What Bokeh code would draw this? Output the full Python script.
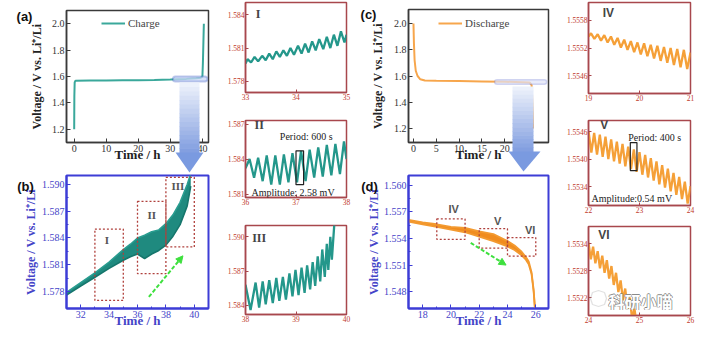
import numpy as np
from bokeh.plotting import figure
from bokeh.layouts import row, column
from bokeh.models import (Range1d, Label, PolyAnnotation, BoxAnnotation, Arrow, NormalHead,
                          FixedTicker, PrintfTickFormatter, GridBox)
from bokeh.embed import file_html
from bokeh.resources import INLINE

# ---------------- data ----------------
charge_t = [0.0, 0.05, 0.15, 0.4, 5, 10, 15, 20, 25, 30, 35, 38, 39.5, 40.0, 40.15, 40.3, 40.45]
charge_v = [1.20, 1.45, 1.555, 1.568, 1.569, 1.570, 1.571, 1.572, 1.574, 1.577, 1.582, 1.586, 1.590, 1.600, 1.70, 1.85, 2.00]

discharge_t = [0.0, 0.1, 0.25, 0.5, 0.9, 1.5, 2.5, 5, 10, 15, 20, 24, 25.5, 25.9, 26.0, 26.1, 26.2]
discharge_v = [2.00, 1.85, 1.72, 1.64, 1.60, 1.575, 1.566, 1.563, 1.561, 1.559, 1.556, 1.553, 1.550, 1.530, 1.45, 1.33, 1.20]

# (b) zoom of charge plateau: oscillation envelope
b_t = [31.0, 32.0, 33.0, 34.0, 35.0, 35.5, 36.0, 36.5, 37.0, 37.5, 38.0, 38.5, 39.0, 39.5, 39.75]
b_lo = [1.5776, 1.5786, 1.5796, 1.5806, 1.5815, 1.5819, 1.5822, 1.5817, 1.5822, 1.5826, 1.5832, 1.5842, 1.5855, 1.5876, 1.5898]
b_hi = [1.5779, 1.5790, 1.5801, 1.5813, 1.5827, 1.5833, 1.5840, 1.5843, 1.5847, 1.5849, 1.5856, 1.5866, 1.5880, 1.5900, 1.5912]
b_box_x0 = [33, 36, 38]
b_box_x1 = [35, 38, 40]
b_box_y0 = [1.5770, 1.5800, 1.5830]
b_box_y1 = [1.5850, 1.5881, 1.5908]
b_box_names = ["I", "II", "III"]

# (d) zoom of discharge plateau: oscillation envelope
d_t = [17.0, 18.0, 19.0, 20.0, 21.0, 22.0, 23.0, 24.0, 24.5, 25.0, 25.3, 25.5, 25.7, 25.85, 25.95]
d_lo = [1.5559, 1.5556, 1.5553, 1.5550, 1.5547, 1.5542, 1.5537, 1.5531, 1.5527, 1.5521, 1.5516, 1.5511, 1.5500, 1.5480, 1.5458]
d_hi = [1.5561, 1.5558, 1.5556, 1.5553, 1.5552, 1.5548, 1.5545, 1.5537, 1.5532, 1.5525, 1.5519, 1.5514, 1.5502, 1.5482, 1.5460]
d_box_x0 = [19, 22, 24]
d_box_x1 = [21, 24, 26]
d_box_y0 = [1.5539, 1.5529, 1.5520]
d_box_y1 = [1.5562, 1.5551, 1.5541]
d_box_names = ["IV", "V", "VI"]

# small panels: peak / trough vertices
I_t = [33.00, 33.04, 33.11, 33.18, 33.25, 33.33, 33.40, 33.47, 33.54, 33.61, 33.68, 33.75, 33.82, 33.89, 33.96,
       34.04, 34.11, 34.18, 34.25, 34.32, 34.39, 34.46, 34.54, 34.61, 34.68, 34.75, 34.82, 34.89, 34.96, 35.00]
I_v = [1.5796, 1.5800, 1.5797, 1.5802, 1.5798, 1.5803, 1.5799, 1.5805, 1.5800, 1.5807, 1.5802, 1.5808, 1.5803, 1.5810, 1.5804,
       1.5812, 1.5805, 1.5814, 1.5806, 1.5816, 1.5808, 1.5818, 1.5809, 1.5820, 1.5810, 1.5822, 1.5812, 1.5825, 1.5815, 1.5822]

II_t = [36.00, 36.08, 36.17, 36.25, 36.34, 36.42, 36.51, 36.59, 36.68, 36.76, 36.85, 36.93, 37.02, 37.10, 37.19,
        37.27, 37.36, 37.44, 37.53, 37.61, 37.70, 37.78, 37.87, 37.95, 38.00]
II_v = [1.5832, 1.5840, 1.5824, 1.5841, 1.5821, 1.5843, 1.5818, 1.5843, 1.5818, 1.5844, 1.5820, 1.5845, 1.5820, 1.5847, 1.5821,
        1.5848, 1.5824, 1.5850, 1.5825, 1.5852, 1.5826, 1.5853, 1.5827, 1.5855, 1.5840]

III_t = [38.00, 38.10, 38.20, 38.27, 38.34, 38.40, 38.47, 38.54, 38.61, 38.67, 38.74, 38.80, 38.87, 38.93, 38.99, 39.05,
         39.11, 39.17, 39.22, 39.28, 39.33, 39.38, 39.43, 39.48, 39.52, 39.57, 39.61, 39.64, 39.68, 39.71, 39.76]
III_v = [1.5858, 1.5836, 1.5860, 1.5838, 1.5861, 1.5841, 1.5862, 1.5842, 1.5864, 1.5844, 1.5865, 1.5845, 1.5868, 1.5848, 1.5871, 1.5849,
         1.5873, 1.5851, 1.5875, 1.5854, 1.5878, 1.5857, 1.5883, 1.5861, 1.5889, 1.5865, 1.5894, 1.5871, 1.5900, 1.5880, 1.5912]

IV_t = [19.00, 19.05, 19.115, 19.18, 19.245, 19.31, 19.375, 19.44, 19.505, 19.57, 19.635, 19.70, 19.765, 19.83, 19.895, 19.96,
        20.025, 20.09, 20.155, 20.22, 20.285, 20.35, 20.415, 20.48, 20.545, 20.61, 20.675, 20.74, 20.805, 20.87, 20.935, 21.00]
IV_v = [1.55545, 1.55552, 1.55540, 1.55550, 1.55536, 1.55548, 1.55532, 1.55545, 1.55527, 1.55542, 1.55521, 1.55538, 1.55516, 1.55535, 1.55511, 1.55532,
        1.55506, 1.55530, 1.55502, 1.55527, 1.55497, 1.55525, 1.55492, 1.55522, 1.55488, 1.55520, 1.55483, 1.55518, 1.55478, 1.55516, 1.55474, 1.55510]

V_t = [22.000, 22.056, 22.111, 22.167, 22.222, 22.278, 22.333, 22.389, 22.444, 22.500, 22.556, 22.611, 22.667, 22.722, 22.778, 22.833,
       22.889, 22.944, 23.000, 23.056, 23.111, 23.167, 23.222, 23.278, 23.333, 23.389, 23.444, 23.500, 23.556, 23.611, 23.667, 23.722,
       23.778, 23.833, 23.889, 23.944, 24.000]
V_v = [1.55461, 1.55414, 1.55457, 1.55410, 1.55453, 1.55405, 1.55449, 1.55400, 1.55443, 1.55395, 1.55438, 1.55390, 1.55433, 1.55384, 1.55427, 1.55378,
       1.55421, 1.55372, 1.55415, 1.55366, 1.55409, 1.55360, 1.55402, 1.55353, 1.55395, 1.55345, 1.55387, 1.55338, 1.55379, 1.55330, 1.55370, 1.55322,
       1.55361, 1.55313, 1.55351, 1.55303, 1.55341]

VI_t = [24.000, 24.045, 24.090, 24.135, 24.180, 24.225, 24.270, 24.315, 24.360, 24.405, 24.450, 24.495, 24.540, 24.585, 24.630, 24.675,
        24.720, 24.765, 24.810, 24.855, 24.900, 24.960]
VI_v = [1.55342, 1.55305, 1.55333, 1.55296, 1.55323, 1.55285, 1.55313, 1.55275, 1.55303, 1.55262, 1.55290, 1.55248, 1.55275, 1.55232, 1.55258, 1.55214,
        1.55240, 1.55195, 1.55220, 1.55172, 1.55195, 1.55150]

panel_letters = ["(a)", "(b)", "(c)", "(d)"]

# ---------------- styling ----------------
SERIF = "Liberation Serif"
SANS = "Liberation Sans"
TEAL = "#24978b"
ORANGE = "#f5a038"
BLUE = "#3d3dd6"
RED_FRAME = "#a8474d"
RED_TXT = "#c0392b"
YLABEL = "Voltage / V vs. Li\u207a/Li"


def make(w, h, xr, yr, bl, br, bt, bb):
    p = figure(width=w, height=h, x_range=Range1d(*xr), y_range=Range1d(*yr),
               output_backend="svg", toolbar_location=None,
               min_border_left=bl, min_border_right=br, min_border_top=bt, min_border_bottom=bb)
    p.xgrid.visible = False
    p.ygrid.visible = False
    p.background_fill_color = "white"
    p.border_fill_color = "white"
    return p


def style(p, frame_col, frame_w, txt_col, tick_size, xticks, yticks, yfmt, xfmt="%d",
          xminor=None, yminor=None, xlabel=None, ylabel=None, lab_col=None, ylab_standoff=4, xlab_standoff=-8):
    p.outline_line_color = frame_col
    p.outline_line_width = frame_w
    p.outline_line_alpha = 1
    p.xaxis.ticker = FixedTicker(ticks=xticks, minor_ticks=xminor or [])
    p.yaxis.ticker = FixedTicker(ticks=yticks, minor_ticks=yminor or [])
    p.xaxis.formatter = PrintfTickFormatter(format=xfmt)
    p.yaxis.formatter = PrintfTickFormatter(format=yfmt)
    for ax in (p.xaxis, p.yaxis):
        ax.axis_line_color = frame_col
        ax.axis_line_width = frame_w
        ax.major_tick_line_color = frame_col
        ax.minor_tick_line_color = frame_col
        ax.major_tick_in = 4
        ax.major_tick_out = 0
        ax.minor_tick_in = 2
        ax.minor_tick_out = 0
        ax.major_label_text_font = SERIF
        ax.major_label_text_font_size = tick_size
        ax.major_label_text_color = txt_col
        ax.major_label_standoff = 2
        ax.axis_label_text_font = SERIF
        ax.axis_label_text_font_style = "bold"
        ax.axis_label_text_color = lab_col or txt_col
    if xlabel:
        p.xaxis.axis_label = xlabel
        p.xaxis.axis_label_text_font_size = "13px"
        p.xaxis.axis_label_standoff = xlab_standoff
    if ylabel:
        p.yaxis.axis_label = ylabel
        p.yaxis.axis_label_text_font_size = "12px"
        p.yaxis.axis_label_standoff = ylab_standoff


def txt(p, x, y, s, size="11px", font=SERIF, bold=False, color="#222", align="center", base="middle"):
    p.add_layout(Label(x=x, y=y, text=s, text_font=font, text_font_size=size,
                       text_font_style="bold" if bold else "normal", text_color=color,
                       text_align=align, text_baseline=base))


def style_legend(p, loc):
    p.legend.location = loc
    p.legend.border_line_alpha = 0
    p.legend.background_fill_alpha = 0
    p.legend.label_text_font = SERIF
    p.legend.label_text_font_size = "11px"
    p.legend.glyph_width = 24
    p.legend.glyph_height = 12
    p.legend.padding = 2
    p.legend.margin = 0
    p.legend.label_standoff = 3


def dashed_boxes(p, x0, x1, y0, y1):
    p.quad(left=x0, right=x1, bottom=y0, top=y1, fill_alpha=0, line_color="#b0403c",
           line_dash="2 2", line_width=1.3)


# ---------------- (a) ----------------
pa = make(218, 172, (-2.4, 41.9), (1.10, 2.10), 65, 10, 10, 30)
style(pa, "#3a3a3a", 1.5, "#333", "10px", [0, 10, 20, 30, 40], [1.2, 1.4, 1.6, 1.8, 2.0], "%.1f",
      xlabel="Time / h", ylabel=YLABEL, lab_col="#222", ylab_standoff=5)
pa.line(charge_t, charge_v, color="#3aa89b", line_width=2, legend_label="Charge")
style_legend(pa, (33, 111))
pa.add_layout(BoxAnnotation(left=30.8, right=41.6, bottom=1.562, top=1.600, fill_color="#c9d7f5",
                            fill_alpha=0.75, line_color="#2f4fc0", line_width=2, border_radius=3))

# ---------------- (b) ----------------
pb = make(218, 165, (31.0, 41.0), (1.5761, 1.5910), 66, 10, 3, 29)
style(pb, BLUE, 2, "#4444c8", "10px", [32, 34, 36, 38, 40], [1.578, 1.581, 1.584, 1.587, 1.590], "%.3f",
      xminor=[31, 33, 35, 37, 39, 41], yminor=[1.5795, 1.5825, 1.5855, 1.5885],
      xlabel="Time / h", ylabel=YLABEL, lab_col="#4444c8", ylab_standoff=1)
pb.varea(x=b_t, y1=b_lo, y2=b_hi, fill_color="#1f8a7f")
pb.line(b_t, b_lo, color="#16766c", line_width=1.6)
pb.line(b_t, b_hi, color="#2a9d90", line_width=1.6)
dashed_boxes(pb, b_box_x0, b_box_x1, b_box_y0, b_box_y1)
for xx, yy, nm in zip([33.85, 37.0, 38.85], [1.5838, 1.5866, 1.5898], b_box_names):
    txt(pb, xx, yy, nm, size="11px", font=SERIF, bold=True, color="#555")
pb.add_layout(Arrow(end=NormalHead(size=7, fill_color="#3ee03e", line_color="#3ee03e"),
                    x_start=36.8, y_start=1.5774, x_end=39.2, y_end=1.5820,
                    line_color="#3ee03e", line_width=2, line_dash="4 2"))

# ---------------- (c) ----------------
pc = make(197, 172, (-1.09, 29.6), (1.093, 2.107), 53, 4, 9, 30)
style(pc, "#3a3a3a", 1.5, "#333", "10px", [0, 5, 10, 15, 20, 25], [1.2, 1.4, 1.6, 1.8, 2.0], "%.1f",
      xlabel="Time / h", ylabel=YLABEL, lab_col="#222", ylab_standoff=6)
pc.line(discharge_t, discharge_v, color="#f7a64c", line_width=2, legend_label="Discharge")
style_legend(pc, (28, 111))
pc.add_layout(BoxAnnotation(left=17.8, right=29.2, bottom=1.537, top=1.571, fill_color="#dfe3f6",
                            fill_alpha=0.7, line_color="#6f7fd6", line_width=1.5, border_radius=3))

# ---------------- (d) ----------------
pd = make(197, 165, (17.0, 26.9), (1.5461, 1.5611), 53, 3, 3, 29)
style(pd, BLUE, 2, "#4444c8", "10px", [18, 20, 22, 24, 26], [1.548, 1.551, 1.554, 1.557, 1.560], "%.3f",
      xminor=[17, 19, 21, 23, 25], yminor=[1.5495, 1.5525, 1.5555, 1.5585],
      xlabel="Time / h", ylabel=YLABEL, lab_col="#4444c8", ylab_standoff=0)
pd.varea(x=d_t, y1=d_lo, y2=d_hi, fill_color="#f08c1e")
pd.line(d_t, d_lo, color="#f39a30", line_width=1.8)
pd.line(d_t, d_hi, color="#f39a30", line_width=1.8)
dashed_boxes(pd, d_box_x0, d_box_x1, d_box_y0, d_box_y1)
for xx, yy, nm in zip([20.2, 23.3, 25.6], [1.5573, 1.5560, 1.5549], d_box_names):
    txt(pd, xx, yy, nm, size="11px", font=SANS, bold=True, color="#555")
pd.add_layout(Arrow(end=NormalHead(size=7, fill_color="#3ee03e", line_color="#3ee03e"),
                    x_start=21.4, y_start=1.5535, x_end=23.9, y_end=1.5510,
                    line_color="#3ee03e", line_width=2, line_dash="4 2"))

# ---------------- small panels ----------------
def small(w, h, xr, yr, bl, br, bt, bb, xticks, yticks, yfmt):
    p = make(w, h, xr, yr, bl, br, bt, bb)
    style(p, RED_FRAME, 1.5, RED_TXT, "7.5px", xticks, yticks, yfmt)
    for ax in (p.xaxis, p.yaxis):
        ax.major_tick_in = 3
        ax.major_label_standoff = 1
    return p

p1 = small(137, 105, (33, 35), (1.5770, 1.5851), 27, 8, 2, 13, [33, 34, 35], [1.578, 1.581, 1.584], "%.3f")
p1.line(I_t, I_v, color=TEAL, line_width=2.3)
txt(p1, 33.25, 1.5841, "I", size="12px", bold=True, color="#444")

p2 = small(137, 105, (36, 38), (1.5807, 1.5873), 26, 9, 15, 13, [36, 37, 38], [1.581, 1.584, 1.587], "%.3f")
p2.line(II_t, II_v, color=TEAL, line_width=2.3)
p2.quad(left=[37.00], right=[37.15], bottom=[1.5818], top=[1.5847], fill_alpha=0, line_color="#222", line_width=1.2)
txt(p2, 36.27, 1.5869, "II", size="12px", bold=True, color="#444")
txt(p2, 36.68, 1.5859, "Period: 600 s", size="10px", color="#222", align="left")
txt(p2, 36.12, 1.5811, "Amplitude: 2.58 mV", size="10px", color="#222", align="left")

p3 = small(137, 127, (38, 40), (1.5832, 1.5910), 26, 9, 15, 23, [38, 39, 40], [1.584, 1.587, 1.590], "%.3f")
p3.line(III_t, III_v, color=TEAL, line_width=2.3)
txt(p3, 38.27, 1.5899, "III", size="12px", bold=True, color="#444")

p4 = small(150, 105, (19, 21), (1.55421, 1.55619), 35, 12, 2, 12, [19, 20, 21], [1.5546, 1.5552, 1.5558], "%.4f")
p4.line(IV_t, IV_v, color=ORANGE, line_width=2.3)
txt(p4, 19.39, 1.55596, "IV", size="12px", font=SANS, bold=True, color="#444")

p5 = small(150, 113, (22, 24), (1.55299, 1.55484), 35, 12, 15, 13, [22, 23, 24], [1.5534, 1.5540, 1.5546], "%.4f")
p5.line(V_t, V_v, color=ORANGE, line_width=2.3)
p5.quad(left=[22.82], right=[22.95], bottom=[1.55375], top=[1.55436], fill_alpha=0, line_color="#222", line_width=1.2)
txt(p5, 22.31, 1.55474, "V", size="12px", font=SANS, bold=True, color="#444")
txt(p5, 22.78, 1.55446, "Period: 400 s", size="10px", color="#222", align="left")
txt(p5, 22.06, 1.55315, "Amplitude:0.54 mV", size="10px", color="#222", align="left")

p6 = small(150, 119, (24, 26), (1.5518, 1.55378), 36, 12, 8, 22, [24, 25, 26], [1.5522, 1.5528, 1.5534], "%.4f")
p6.line(VI_t, VI_v, color=ORANGE, line_width=2.3)
txt(p6, 24.3, 1.5536, "VI", size="12px", font=SANS, bold=True, color="#444")

main = row(column(pa, pb), column(p1, p2, p3), column(pc, pd), column(p4, p5, p6))

# ---------------- transparent overlay (pixel coordinates) for decorations ----------------
ov = figure(width=702, height=337, x_range=Range1d(0, 702), y_range=Range1d(337, 0),
            output_backend="svg", toolbar_location=None, x_axis_type=None, y_axis_type=None,
            min_border_left=0, min_border_right=0, min_border_top=0, min_border_bottom=0)
ov.xgrid.visible = False
ov.ygrid.visible = False
ov.background_fill_alpha = 0
ov.border_fill_alpha = 0
ov.outline_line_alpha = 0


def blue_arrow(p, xl, xr, hl, hr, xtip, ytop, ybase, ytip):
    n = 16
    c0 = np.array([240, 244, 252])
    c1 = np.array([128, 157, 224])
    step = (ybase - ytop) / n
    for i in range(n):
        y0 = ytop + step * i
        y1 = ytop + step * (i + 1) + 0.6
        c = c0 + (c1 - c0) * (i + 0.5) / n
        col = "#%02x%02x%02x" % tuple(int(v) for v in c)
        p.add_layout(PolyAnnotation(xs=[xl, xr, xr, xl], ys=[y0, y0, y1, y1], fill_color=col,
                                    fill_alpha=1, line_alpha=0, level="overlay"))
    p.add_layout(PolyAnnotation(xs=[hl, hr, xtip], ys=[ybase, ybase, ytip], fill_color="#7a9ae0",
                                fill_alpha=1, line_alpha=0, level="overlay"))


blue_arrow(ov, 179, 199, 175, 203, 189, 82, 152, 172)
blue_arrow(ov, 512, 533, 508, 540, 523, 86, 151, 171)
for (lx, ly), lt in zip([(24, 16), (25, 186), (368, 14), (369, 186)], panel_letters):
    txt(ov, lx, ly, lt, size="13px", font=SANS, bold=True, color="#111")

# watermark (logo ring + text) over panel VI
ov.add_layout(PolyAnnotation(xs=[592, 598, 604, 606, 604, 598, 592, 590],
                             ys=[292, 290, 292, 298, 304, 306, 304, 298],
                             fill_alpha=0, line_color="#9a9a9a", line_width=1.2, level="overlay"))
for dx, dy in [(-0.8, 0), (0.8, 0), (0, -0.8), (0, 0.8)]:
    txt(ov, 640 + dx, 300 + dy, "科研小喵", size="16px", font="Noto Sans CJK SC", bold=True, color="#8a8a8a")
txt(ov, 640, 300, "科研小喵", size="16px", font="Noto Sans CJK SC", bold=True, color="#ffffff")

layout = GridBox(children=[(main, 0, 0), (ov, 0, 0)])

with open("out.html", "w") as f:
    f.write(file_html(layout, INLINE))
